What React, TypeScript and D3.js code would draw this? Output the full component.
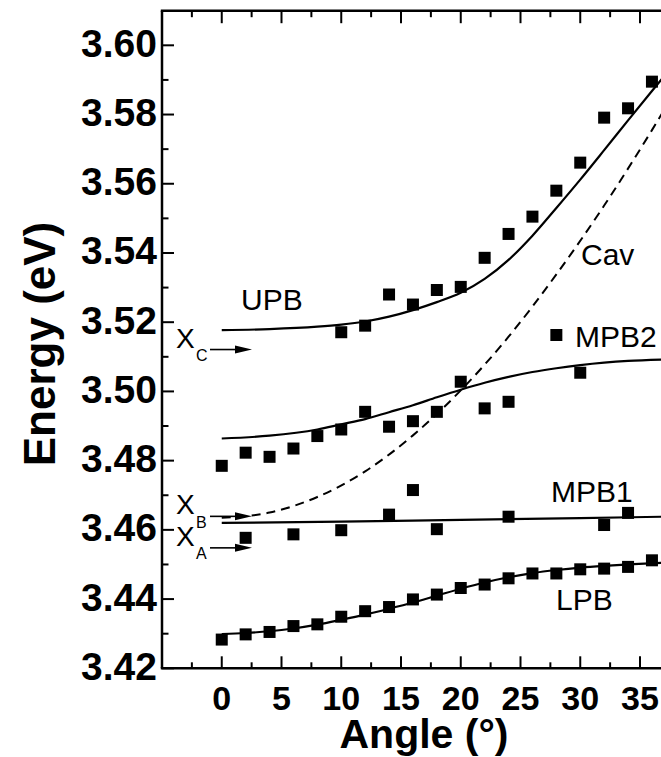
import React from "react";
import * as d3 from "d3";

// Measured polariton branches: angle (deg) and energy (eV)
const upbAngles = [10, 12, 14, 16, 18, 20, 22, 24, 26, 28, 30, 32, 34, 36];
const upbEnergy = [3.5171, 3.519, 3.528, 3.5251, 3.5293, 3.5302, 3.5386, 3.5455, 3.5505, 3.558, 3.5661, 3.5791, 3.5818, 3.5895];

const mpb2Angles = [0, 2, 4, 6, 8, 10, 12, 14, 16, 18, 20, 22, 24, 28, 30];
const mpb2Energy = [3.4785, 3.4823, 3.4811, 3.4835, 3.4871, 3.489, 3.4941, 3.4898, 3.4914, 3.4941, 3.5028, 3.4951, 3.497, 3.5163, 3.5054];

const mpb1Angles = [2, 6, 10, 14, 16, 18, 24, 32, 34];
const mpb1Energy = [3.4577, 3.4587, 3.4599, 3.4644, 3.4715, 3.4602, 3.4638, 3.4614, 3.4649];

const lpbAngles = [0, 2, 4, 6, 8, 10, 12, 14, 16, 18, 20, 22, 24, 26, 28, 30, 32, 34, 36];
const lpbEnergy = [3.4283, 3.4298, 3.4305, 3.4322, 3.4327, 3.4349, 3.4365, 3.4377, 3.4399, 3.4413, 3.4432, 3.4442, 3.446, 3.4474, 3.4474, 3.4486, 3.4488, 3.4493, 3.4512];

// Fitted model curves
const upbFitAngles = [0, 4, 8, 10, 12, 14, 16, 18, 20, 22, 24, 26, 28, 30, 32, 34, 36, 37];
const upbFit = [3.5177, 3.518, 3.5187, 3.5193, 3.5202, 3.5216, 3.5235, 3.5258, 3.5285, 3.5325, 3.538, 3.545, 3.553, 3.5612, 3.5697, 3.5783, 3.5868, 3.591];

const mpb2FitAngles = [0, 4, 8, 10, 12, 14, 16, 18, 20, 22, 24, 26, 28, 30, 32, 34, 37];
const mpb2Fit = [3.4864, 3.4872, 3.489, 3.4905, 3.492, 3.494, 3.496, 3.4983, 3.5005, 3.5025, 3.5042, 3.5056, 3.5067, 3.5076, 3.5083, 3.5088, 3.5092];

const mpb1FitAngles = [0, 10, 20, 30, 37];
const mpb1Fit = [3.462, 3.4624, 3.4629, 3.4634, 3.4638];

const lpbFitAngles = [0, 2, 4, 6, 8, 10, 12, 14, 16, 18, 20, 22, 24, 26, 28, 30, 32, 34, 37];
const lpbFit = [3.4299, 3.4302, 3.4307, 3.4315, 3.4326, 3.434, 3.4355, 3.4372, 3.439, 3.441, 3.443, 3.4448, 3.4463, 3.4475, 3.4484, 3.4491, 3.4496, 3.45, 3.4505];

// Bare cavity mode
const cavAngles = [0, 4, 8, 12, 16, 20, 24, 28, 32, 36, 38];
const cavEnergy = [3.4635, 3.465, 3.4695, 3.4769, 3.4873, 3.5003, 3.5158, 3.5338, 3.5537, 3.5755, 3.587];

// Exciton levels
const excitonNames = ["A", "B", "C"];
const excitonEnergy = [3.4548, 3.4639, 3.5121];

const xTickLabels = [0, 5, 10, 15, 20, 25, 30, 35];
const yTickLabels = [3.42, 3.44, 3.46, 3.48, 3.5, 3.52, 3.54, 3.56, 3.58, 3.6];

const W = 661;
const H = 757;
const left = 162;
const top = 10.7;
const bottom = 668.3;

const x = d3.scaleLinear().domain([-5, 40]).range([left, left + 45 * 11.95]);
const y = d3.scaleLinear().domain([3.42, 3.61]).range([bottom, top]);

const line = d3
  .line<[number, number]>()
  .x((d) => x(d[0]))
  .y((d) => y(d[1]))
  .curve(d3.curveMonotoneX);

const zip = (a: number[], b: number[]): [number, number][] => a.map((v, i) => [v, b[i]]);

const SANS = "Arial, 'Liberation Sans', Helvetica, sans-serif";

function Squares({ xs, ys }: { xs: number[]; ys: number[] }) {
  const s = 12;
  return (
    <g fill="#000">
      {xs.map((a, i) => (
        <rect key={i} x={x(a) - s / 2} y={y(ys[i]) - s / 2} width={s} height={s} />
      ))}
    </g>
  );
}

export default function App() {
  const xMajor = d3.range(-5, 40.01, 5);
  const xMinor = d3.range(-2.5, 40, 5);
  const yMajor = d3.range(3.42, 3.6101, 0.02);
  const yMinor = d3.range(3.43, 3.61, 0.02);

  const arrowX0 = 210;
  const arrowX1 = 252;

  return (
    <svg
      width={W}
      height={H}
      style={{ position: "absolute", left: 0, top: 0, background: "#fff" }}
      fontFamily={SANS}
    >
      <rect width={W} height={H} fill="#fff" />

      {/* frame */}
      <g stroke="#000" strokeWidth={2.5} fill="none">
        <line x1={left} y1={top} x2={left} y2={bottom} />
        <line x1={left - 1.2} y1={bottom} x2={W + 10} y2={bottom} />
        <line x1={left - 1.2} y1={top} x2={W + 10} y2={top} />
      </g>

      {/* ticks pointing inward */}
      <g stroke="#000" strokeWidth={2}>
        {xMajor.map((v) => (
          <g key={"xm" + v}>
            <line x1={x(v)} x2={x(v)} y1={bottom} y2={bottom - 12} />
            <line x1={x(v)} x2={x(v)} y1={top} y2={top + 12.5} />
          </g>
        ))}
        {xMinor.map((v) => (
          <g key={"xn" + v}>
            <line x1={x(v)} x2={x(v)} y1={bottom} y2={bottom - 6} />
            <line x1={x(v)} x2={x(v)} y1={top} y2={top + 6.5} />
          </g>
        ))}
        {yMajor.map((v) => (
          <line key={"ym" + v} x1={left} x2={left + 12} y1={y(v)} y2={y(v)} />
        ))}
        {yMinor.map((v) => (
          <line key={"yn" + v} x1={left} x2={left + 6.5} y1={y(v)} y2={y(v)} />
        ))}
      </g>

      {/* tick labels */}
      <g fontWeight="bold" fontSize={39} textAnchor="end" fill="#000">
        {yTickLabels.map((v) => (
          <text key={"yl" + v} x={157} y={y(v) + 11.5}>
            {v.toFixed(2)}
          </text>
        ))}
      </g>
      <g fontWeight="bold" fontSize={34} textAnchor="middle" fill="#000">
        {xTickLabels.map((v) => (
          <text key={"xl" + v} x={x(v)} y={710}>
            {v}
          </text>
        ))}
      </g>

      {/* axis titles */}
      <text x={424} y={748} fontWeight="bold" fontSize={41} textAnchor="middle">
        Angle (°)
      </text>
      <text
        transform="translate(55,344) rotate(-90)"
        fontWeight="bold"
        fontSize={44}
        textAnchor="middle"
      >
        Energy (eV)
      </text>

      {/* cavity mode */}
      <path d={line(zip(cavAngles, cavEnergy)) || ""} fill="none" stroke="#000" strokeWidth={2} strokeDasharray="9,6" />

      {/* fitted branches */}
      <g fill="none" stroke="#000" strokeWidth={2.2}>
        <path d={line(zip(upbFitAngles, upbFit)) || ""} />
        <path d={line(zip(mpb2FitAngles, mpb2Fit)) || ""} />
        <path d={line(zip(mpb1FitAngles, mpb1Fit)) || ""} />
        <path d={line(zip(lpbFitAngles, lpbFit)) || ""} />
      </g>

      {/* measured points */}
      <Squares xs={upbAngles} ys={upbEnergy} />
      <Squares xs={mpb2Angles} ys={mpb2Energy} />
      <Squares xs={mpb1Angles} ys={mpb1Energy} />
      <Squares xs={lpbAngles} ys={lpbEnergy} />

      {/* exciton markers */}
      {excitonNames.map((n, i) => {
        const yy = y(excitonEnergy[i]);
        return (
          <g key={n}>
            <text x={176} y={yy - 2} fontSize={28} fill="#000">
              X
            </text>
            <text x={196} y={yy + 11.5} fontSize={16} fill="#000">
              {n}
            </text>
            <line x1={arrowX0} x2={arrowX1 - 14} y1={yy} y2={yy} stroke="#000" strokeWidth={1.6} />
            <path
              d={`M${arrowX1},${yy} L${arrowX1 - 17},${yy - 4} L${arrowX1 - 17},${yy + 4} Z`}
              fill="#000"
            />
          </g>
        );
      })}

      {/* branch labels */}
      <g fontSize={30} fill="#000">
        <text x={241} y={310}>UPB</text>
        <text x={581} y={265}>Cav</text>
        <text x={575} y={346.5}>MPB2</text>
        <text x={551} y={501.5}>MPB1</text>
        <text x={556} y={610}>LPB</text>
      </g>
    </svg>
  );
}
